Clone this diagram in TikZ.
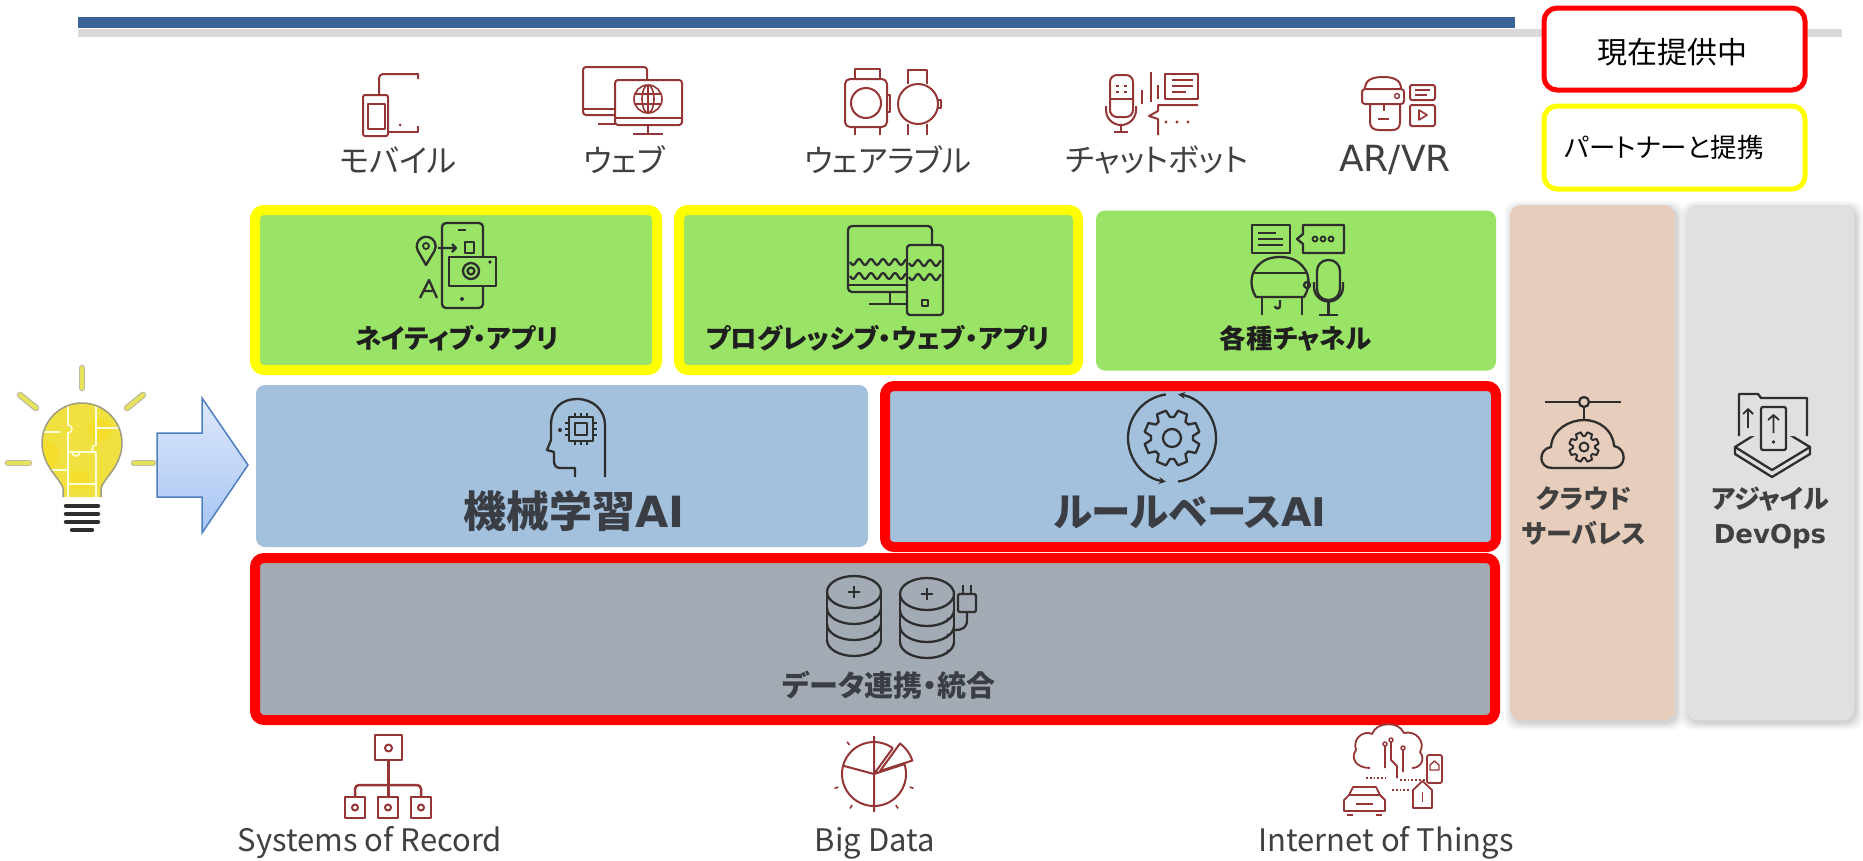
\documentclass[tikz,border=0pt]{standalone}
\usepackage{fontspec}
\setmainfont{Noto Sans CJK JP}[RawFeature=+palt]
\newfontfamily\latinfont{DejaVu Sans}
\usetikzlibrary{arrows.meta}

\definecolor{barblue}{HTML}{3A6496}
\definecolor{bargray}{HTML}{D9D9D9}
\definecolor{appgreen}{HTML}{99E366}
\definecolor{aiblue}{HTML}{A3C0DD}
\definecolor{datagray}{HTML}{A2AAB3}
\definecolor{peach}{HTML}{E7CDBB}
\definecolor{colgray}{HTML}{E0E0E0}
\definecolor{icored}{HTML}{963535}
\definecolor{icodark}{HTML}{2E2E2E}
\definecolor{txtgray}{HTML}{404040}
\definecolor{aitext}{HTML}{3A3E44}
\definecolor{hotred}{HTML}{FF0000}
\definecolor{hotyellow}{HTML}{FFFF00}
\definecolor{arrowtop}{HTML}{DDE8FB}
\definecolor{arrowbot}{HTML}{A8C5F3}
\definecolor{arrowline}{HTML}{4F7FBF}
\definecolor{bulbfill}{HTML}{F0E040}
\definecolor{bulbline}{HTML}{A09C80}
\definecolor{rayfill}{HTML}{E6E25C}

% gear outline: centre x, centre y, root radius, tip radius, teeth, style
\newcommand{\drawgear}[6]{%
  \draw[#6,shift={(#1,#2)}] (0:#3)
    \foreach \k in {1,...,#5}{
      -- ({(\k-1)*360/#5+0.12*360/#5}:#3)
      -- ({(\k-1)*360/#5+0.28*360/#5}:#4)
      -- ({(\k-1)*360/#5+0.72*360/#5}:#4)
      -- ({(\k-1)*360/#5+0.88*360/#5}:#3)
      -- ({\k*360/#5}:#3)
    } -- cycle;}

% stacked disk cylinder: centre x, top ellipse centre y
\newcommand{\dbstack}[2]{%
  \draw[darkicon] (#1-27,#2) -- (#1-27,#2+48);
  \draw[darkicon] (#1+27,#2) -- (#1+27,#2+48);
  \foreach \j in {16,32,48}{
    \draw[darkicon] (#1-27,#2+\j) arc[start angle=180,end angle=0,x radius=27,y radius=16];
    \fill[icodark] (#1+21,#2+\j+9) circle (1.6);
  }
  \draw[darkicon] (#1,#2) ellipse [x radius=27,y radius=16];
  \draw[darkicon] (#1-6,#2) -- (#1+6,#2) (#1,#2-6) -- (#1,#2+6);}

\begin{document}
\begin{tikzpicture}[x=1pt,y=-1pt,
  redicon/.style={draw=icored,line width=2pt,line join=round},
  darkicon/.style={draw=icodark,line width=2.3pt,line join=round},
  appbox/.style={fill=appgreen,rounded corners=9pt,inner sep=0pt,minimum height=160pt},
  aibox/.style={fill=aiblue,rounded corners=9pt,inner sep=0pt,minimum height=161pt},
  partner/.style={draw=hotyellow,line width=10pt},
  offered/.style={draw=hotred,line width=10pt},
  column/.style={rounded corners=11pt,inner sep=0pt,minimum height=515pt},
  legendbox/.style={fill=white,rounded corners=13pt,line width=5pt,inner sep=0pt,
    minimum width=261pt,minimum height=82pt},
  toplabel/.style={font=\fontsize{31.5}{35}\selectfont,text=txtgray,inner sep=0pt},
  botlabel/.style={font=\fontsize{31}{34}\selectfont,text=txtgray,inner sep=0pt},
  applabel/.style={font=\bfseries\fontsize{26.5}{30}\selectfont,text=black!88,inner sep=0pt},
  ailabel/.style={font=\bfseries\fontsize{43}{46}\selectfont,text=aitext,inner sep=0pt},
  datalabel/.style={font=\bfseries\fontsize{29}{32}\selectfont,text=aitext,inner sep=0pt},
  collabel/.style={font=\bfseries\fontsize{26}{35}\selectfont,text=txtgray,align=center,inner sep=0pt},
  legendlabel/.style={font=\fontsize{26.5}{30}\selectfont,text=black,inner sep=0pt},
  ray/.style={line width=6.5pt,line cap=round,draw=bulbline!70},
  rayin/.style={line width=4pt,line cap=round,draw=rayfill}
]
\useasboundingbox (0,0) rectangle (1863,860);

% ---------- header bars ----------
\fill[bargray] (78,29) rectangle (1842,37);
\fill[barblue] (78,17) rectangle (1515,28);

% ---------- legend ----------
\node[legendbox,draw=hotred] (legoffer) at (1674.5,49) {};
\node[legendlabel,font=\fontsize{30}{32}\selectfont] (legoffertxt) at (1672,52) {現在提供中};
\node[legendbox,draw=hotyellow,minimum height=83pt] (legpartner) at (1674.5,147.5) {};
\node[legendlabel] (legpartnertxt) at (1664,147) {パートナーと提携};

% ---------- side columns with soft shadow ----------
\foreach \d/\o in {7/0.03,5/0.04,3/0.05,1/0.06}{
  \fill[black,opacity=\o,rounded corners=12pt] (1510-\d+2,205-\d+3) rectangle (1675+\d+2,720+\d+3);
  \fill[black,opacity=\o,rounded corners=12pt] (1686-\d+2,205-\d+3) rectangle (1854+\d+2,720+\d+3);
}
\node[column,fill=peach,minimum width=165pt] (cloudcol) at (1592.5,462.5) {};
\node[column,fill=colgray,minimum width=168pt] (agilecol) at (1770,462.5) {};

% ---------- application row ----------
\node[appbox,partner,minimum width=402pt] (native) at (456,290) {};
\node[appbox,partner,minimum width=399pt] (pwa) at (878.5,290) {};
\node[appbox,minimum width=400pt] (channels) at (1296,290.5) {};

% ---------- AI row ----------
\node[aibox,minimum width=612pt,minimum height=162pt] (mlai) at (562,466) {};
\node[aibox,offered,minimum width=611pt] (ruleai) at (1190.5,466.5) {};

% ---------- data row ----------
\node[fill=datagray,offered,rounded corners=9pt,inner sep=0pt,minimum width=1240pt,minimum height=162pt] (data) at (875,639) {};

% ---------- light bulb ----------
\draw[ray] (82,368) -- (82,388);  \draw[rayin] (82,368) -- (82,388);
\draw[ray] (20,395) -- (36,408);  \draw[rayin] (20,395) -- (36,408);
\draw[ray] (127,408) -- (143,395); \draw[rayin] (127,408) -- (143,395);
\draw[ray] (8,463) -- (29,463);   \draw[rayin] (8,463) -- (29,463);
\draw[ray] (134,463) -- (153,463); \draw[rayin] (134,463) -- (153,463);
\begin{scope}
  \path[clip] (63,497) -- (63,488) .. controls (60,478) and (42,466) .. (42,443)
    arc[start angle=180,end angle=360,radius=40]
    .. controls (122,466) and (104,478) .. (101,488) -- (101,497) -- cycle;
  \fill[bulbfill] (40,400) rectangle (125,500);
  \fill[yellow!80!orange,opacity=0.35] (45,455) circle (14) (100,430) circle (12) (80,480) circle (10);
  \draw[white!85!yellow,line width=1.6pt]
    (68,400) -- (68,425) arc[start angle=-90,end angle=90,radius=4] -- (68,500)
    (96,400) -- (96,445) arc[start angle=270,end angle=90,radius=4] -- (96,500)
    (40,432) -- (60,432) (68,452) -- (96,452)
    (96,428) -- (125,428) (40,470) -- (68,470) (68,484) -- (96,484)
    (80,452) arc[start angle=0,end angle=180,radius=4];
\end{scope}
\draw[bulbline,line width=1.5pt] (63,497) -- (63,488) .. controls (60,478) and (42,466) .. (42,443)
    arc[start angle=180,end angle=360,radius=40]
    .. controls (122,466) and (104,478) .. (101,488) -- (101,497);
\foreach \yy in {506,514,522}{\draw[icodark,line width=4.5pt,line cap=round] (66,\yy) -- (98,\yy);}
\draw[icodark,line width=4.5pt,line cap=round] (72,530) -- (92,530);

% ---------- arrow into the stack ----------
\path[draw=arrowline,line width=1.5pt,line join=miter,top color=arrowtop,bottom color=arrowbot]
  (157,433) -- (202,433) -- (202,398) -- (248,465) -- (202,533) -- (202,497) -- (157,497) -- cycle;

% ---------- channel icons (top row) ----------
% mobile
\draw[redicon] (379,95) -- (379,78) arc[start angle=180,end angle=270,radius=4] -- (418,74) -- (418,79);
\draw[redicon] (418,126) -- (418,132) -- (388,132);
\fill[icored] (400,125) circle (1.5);
\draw[redicon,fill=white,rounded corners=2pt] (363,95) rectangle (388,136);
\draw[redicon] (368,104) rectangle (385,129);
% web
\draw[redicon,rounded corners=3pt] (583,67) rectangle (647,115);
\draw[redicon] (583,109) -- (615,109) (598,124) -- (615,124);
\draw[redicon,fill=white,rounded corners=3pt] (615,80) rectangle (682,125);
\draw[redicon] (615,118) -- (682,118) (648,125) -- (648,134) (633,134) -- (663,134);
\draw[redicon,line width=1.6pt] (648,99) circle (14) (648,99) ellipse [x radius=6,y radius=14]
  (648,85) -- (648,113) (635,94) -- (661,94) (635,104) -- (661,104);
% wearables
\draw[redicon] (855,79) -- (855,69) -- (880,69) -- (880,79);
\draw[redicon,rounded corners=5pt] (845,79) rectangle (887,127);
\draw[redicon] (866,103) circle (15);
\draw[redicon] (887,95) -- (890,95) -- (890,112) -- (887,112);
\draw[redicon] (855,127) -- (855,135) (880,127) -- (880,135);
\draw[redicon] (908,84) -- (908,70) -- (927,70) -- (927,84);
\draw[redicon] (918,104) circle (20);
\draw[redicon] (908,124) -- (908,135) (927,124) -- (927,135);
\draw[redicon] (938,100) -- (941,100) -- (941,108) -- (938,108);
% chatbot
\draw[redicon,rounded corners=7pt] (1110,75) rectangle (1133,117);
\draw[redicon] (1110,99) -- (1133,99);
\draw[redicon,line width=1.6pt] (1116,86) -- (1119,86) (1124,86) -- (1127,86) (1116,92) -- (1119,92) (1124,92) -- (1127,92);
\draw[redicon] (1106,106) -- (1106,110) arc[start angle=180,end angle=0,radius=15] -- (1136,106);
\draw[redicon] (1121,125) -- (1121,132) (1114,132) -- (1128,132);
\draw[redicon] (1142,90) -- (1142,104) (1151,72) -- (1151,102) (1158,85) -- (1158,99);
\draw[redicon] (1165,74) rectangle (1198,99);
\draw[redicon,line width=1.6pt] (1172,80) -- (1193,80) (1172,86) -- (1193,86) (1172,92) -- (1186,92);
\draw[redicon] (1198,105) -- (1158,105) -- (1158,111) -- (1149,116) -- (1158,119) -- (1158,135);
\fill[icored] (1166,122) circle (1.6) (1177,122) circle (1.6) (1188,122) circle (1.6);
% AR/VR
\draw[redicon] (1365,89) .. controls (1365,80) and (1372,77) .. (1383,77) .. controls (1394,77) and (1401,80) .. (1401,89);
\draw[redicon,rounded corners=3pt] (1362,89) rectangle (1404,104);
\draw[redicon,line width=1.4pt] (1397,96) circle (2.5);
\draw[redicon] (1370,104) -- (1370,122) .. controls (1370,128) and (1374,130) .. (1379,130) -- (1392,130)
  .. controls (1397,130) and (1400,128) .. (1400,122) -- (1400,104);
\draw[redicon] (1384,104) -- (1384,111) (1378,119) -- (1389,119);
\draw[redicon,rounded corners=2pt] (1410,85) rectangle (1435,100);
\draw[redicon,line width=1.6pt] (1415,90) -- (1430,90) (1415,95) -- (1427,95);
\draw[redicon,rounded corners=2pt] (1410,105) rectangle (1435,126);
\draw[redicon,line width=1.6pt] (1419,110) -- (1427,115) -- (1419,120) -- cycle;

% ---------- channel labels ----------
\node[toplabel] (lblmobile) at (398,160) {モバイル};
\node[toplabel] (lblweb) at (624,160) {ウェブ};
\node[toplabel] (lblwear) at (888,160) {ウェアラブル};
\node[toplabel] (lblbot) at (1157,160) {チャットボット};
\node[toplabel,font=\latinfont\fontsize{36}{38}\selectfont] (lblarvr) at (1395,160) {AR/VR};

% ---------- native app icon ----------
\draw[darkicon,rounded corners=4pt] (442,223) rectangle (483,308);
\draw[darkicon] (458,230) -- (466,230);
\fill[icodark] (462,299) circle (2);
\draw[darkicon,fill=appgreen] (449,257) rectangle (496,286);
\draw[darkicon] (471,271) circle (8) (471,271) circle (3.5);
\fill[icodark] (490,262) circle (1.8);
\draw[darkicon] (426,265) -- (418,251) arc[start angle=150,end angle=390,radius=9.5] -- cycle;
\draw[darkicon,line width=1.8pt] (426,246) circle (3);
\draw[darkicon] (438,248) -- (456,248) (452,244) -- (456,248) -- (452,252);
\draw[darkicon] (465,242) rectangle (474,253);
\draw[darkicon] (420,298) -- (429,280) -- (437,298) (424,291) -- (434,291);

% ---------- progressive web app icon ----------
\draw[darkicon,rounded corners=4pt] (848,226) rectangle (932,292);
\draw[darkicon] (848,285) -- (907,285) (890,292) -- (890,303) (869,304) -- (909,304);
\draw[darkicon] plot[domain=850:906,samples=40] (\x,{262+3*sin((\x-850)*30)});
\draw[darkicon] plot[domain=850:906,samples=40] (\x,{276+3*sin((\x-850)*30)});
\draw[darkicon,fill=appgreen,rounded corners=3pt] (907,245) rectangle (943,315);
\draw[darkicon] plot[domain=909:941,samples=30] (\x,{263+3*sin((\x-909)*30)});
\draw[darkicon] plot[domain=909:941,samples=30] (\x,{277+3*sin((\x-909)*30)});
\draw[darkicon,line width=1.8pt] (922,300) rectangle (928,306);

% ---------- channels icon ----------
\draw[darkicon] (1252,225) rectangle (1290,253);
\draw[darkicon] (1258,233) -- (1276,233) (1258,239) -- (1283,239) (1258,245) -- (1283,245);
\draw[darkicon] (1303,234) -- (1303,225) -- (1344,225) -- (1344,253) -- (1303,253) -- (1303,244) -- (1297,239) -- cycle;
\foreach \xx in {1315,1323,1331}{\draw[darkicon,line width=1.8pt] (\xx,239) circle (2.5);}
\draw[darkicon] (1256,297) .. controls (1250,288) and (1250,275) .. (1256,268)
  .. controls (1262,260) and (1270,257) .. (1280,257) .. controls (1290,257) and (1298,260) .. (1304,268)
  .. controls (1310,275) and (1310,288) .. (1304,297) -- cycle;
\draw[darkicon] (1254,273) -- (1306,273);
\draw[darkicon] (1307,285) circle (3);
\draw[darkicon] (1262,297) -- (1262,315) (1302,297) -- (1302,315);
\draw[darkicon] (1280,300) -- (1280,306) arc[start angle=0,end angle=180,radius=2.5];
\draw[darkicon,rounded corners=11pt] (1317,260) rectangle (1340,300);
\draw[darkicon] (1314,282) -- (1314,287) arc[start angle=180,end angle=0,radius=14.5] -- (1343,282);
\draw[darkicon] (1328.5,301.5) -- (1328.5,315) (1319,315) -- (1338,315);

% ---------- machine learning icon ----------
\draw[darkicon] (575,477) -- (575,468) -- (560,468) .. controls (556,468) and (554,465) .. (554,461)
  -- (554,452) -- (547,450) -- (551,440) -- (551,425) .. controls (551,408) and (562,399) .. (577,399)
  .. controls (593,399) and (605,410) .. (605,425) -- (605,477);
\draw[darkicon] (569,417) rectangle (593,441);
\draw[darkicon,line width=1.8pt] (575,423) rectangle (587,435);
\draw[darkicon,line width=1.6pt] (575,413) -- (575,417) (581,413) -- (581,417) (587,413) -- (587,417)
  (575,441) -- (575,445) (581,441) -- (581,445) (587,441) -- (587,445)
  (565,423) -- (569,423) (565,429) -- (569,429) (565,435) -- (569,435)
  (593,423) -- (597,423) (593,429) -- (597,429) (593,435) -- (597,435);
\fill[icodark] (560,430) circle (2);

% ---------- rule based icon ----------
\drawgear{1172}{438}{21}{28}{8}{darkicon}
\draw[darkicon] (1172,438) circle (9);
\draw[darkicon,-{Stealth[length=7pt,width=7pt]}] (1172,438) ++(262:44) arc[start angle=262,end angle=98,radius=44];
\draw[darkicon,-{Stealth[length=7pt,width=7pt]}] (1172,438) ++(82:44) arc[start angle=82,end angle=-82,radius=44];

% ---------- data integration icon ----------
\dbstack{854}{592}
\dbstack{927}{594}
\draw[darkicon,rounded corners=2pt] (958,594) rectangle (976,612);
\draw[darkicon] (963,585) -- (963,594) (971,585) -- (971,594);
\draw[darkicon] (967,612) -- (967,620) .. controls (967,628) and (962,630) .. (955,630);

% ---------- cloud serverless icon ----------
\draw[darkicon] (1545,402) -- (1621,402) (1584,407) -- (1584,420);
\draw[darkicon,fill=peach] (1584,402) circle (5);
\draw[darkicon] (1552,468) .. controls (1538,468) and (1538,449) .. (1551,447)
  .. controls (1552,429) and (1570,420) .. (1584,420) .. controls (1599,420) and (1613,430) .. (1614,446)
  .. controls (1627,448) and (1627,468) .. (1613,468) -- cycle;
\drawgear{1584}{447}{11}{15}{8}{darkicon,line width=2pt}
\draw[darkicon,line width=2pt] (1584,447) circle (4.5);

% ---------- agile devops icon ----------
\draw[darkicon,fill=colgray] (1735,447) -- (1772,424) -- (1810,447) -- (1772,470) -- cycle;
\draw[darkicon] (1735,447) -- (1735,454) -- (1772,477) -- (1810,454) -- (1810,447);
\draw[darkicon,fill=colgray] (1739,436) -- (1739,394) -- (1758,394) -- (1761,398) -- (1807,398) -- (1807,436);
\draw[darkicon,fill=colgray,rounded corners=2pt] (1761,407) rectangle (1786,450);
\draw[darkicon,line width=1.8pt] (1773.5,433) -- (1773.5,416) (1768,420) -- (1773.5,415) -- (1779,420);
\draw[darkicon,line width=1.8pt] (1748,428) -- (1748,410) (1743,414) -- (1748,409) -- (1753,414);
\fill[icodark] (1773.5,442) circle (1.8);

% ---------- source icons (bottom row) ----------
\draw[redicon,line width=2.5pt] (375,735) rectangle (402,760);
\draw[redicon] (388.5,748) circle (3.5);
\draw[redicon,line width=2.5pt] (388.5,760) -- (388.5,797);
\draw[redicon,line width=2.5pt,rounded corners=4pt] (355,797) -- (355,785) -- (421,785) -- (421,797);
\foreach \bx in {345,378,411}{
  \draw[redicon,line width=2.5pt] (\bx,797) rectangle (\bx+20,818);
  \draw[redicon] (\bx+10,807.5) circle (3);
}
% pie chart
\draw[redicon] (874,774) ++(-18:32) arc[start angle=-18,end angle=306,radius=32];
\draw[redicon] (874,736) -- (874,812) (874,774) -- ++(195:32) (874,774) -- ++(-18:32) (874,774) -- ++(306:32);
\draw[redicon,fill=white] (880,771) -- ++(-54:34) arc[start angle=-54,end angle=-18,radius=34] -- cycle;
\foreach \a in {230,160,125,55,20}{\draw[redicon,line width=1.6pt] (874,774) ++(\a:38) -- ++(\a:4);}
% internet of things
\draw[redicon,line width=1.8pt] (1370,768) .. controls (1356,768) and (1350,758) .. (1356,750)
  .. controls (1352,738) and (1364,730) .. (1372,734) .. controls (1376,722) and (1398,720) .. (1404,733)
  .. controls (1416,730) and (1426,742) .. (1420,752) .. controls (1426,760) and (1420,768) .. (1412,768);
\draw[redicon,line width=1.8pt] (1385,768) -- (1385,746) (1391,742) -- (1391,760) -- (1397,766) -- (1397,778)
  (1403,750) -- (1403,772);
\draw[redicon,line width=1.5pt,fill=white] (1385,744) circle (2) (1391,740) circle (2) (1403,748) circle (2);
\draw[redicon,line width=1.8pt,dotted] (1366,778) -- (1386,778) (1400,780) -- (1425,780) (1392,790) -- (1410,790);
\draw[redicon,line width=1.8pt,rounded corners=2pt] (1427,755) rectangle (1442,783);
\draw[redicon,line width=1.4pt] (1430,770) -- (1430,765) -- (1434.5,761) -- (1439,765) -- (1439,770) -- cycle;
\draw[redicon,line width=1.8pt] (1344,811) -- (1344,800) -- (1349,795) -- (1353,787) -- (1376,787) -- (1380,795)
  -- (1385,800) -- (1385,811) -- cycle (1349,795) -- (1380,795);
\draw[redicon,line width=1.8pt] (1347,815) -- (1353,815) (1376,815) -- (1382,815) (1356,804) -- (1373,804);
\draw[redicon,line width=1.8pt] (1413,808) -- (1413,790) -- (1422.5,781) -- (1432,790) -- (1432,808) -- cycle;
\draw[redicon,line width=1.4pt] (1422.5,792) -- (1422.5,802);

% ---------- stack labels ----------
\node[applabel] (lblnative) at (457,338) {ネイティブ・アプリ};
\node[applabel] (lblpwa) at (878,338) {プログレッシブ・ウェブ・アプリ};
\node[applabel] (lblchannels) at (1296,338) {各種チャネル};
\node[ailabel] (lblml) at (574,511) {機械学習{\latinfont AI}};
\node[ailabel,font=\bfseries\fontsize{39.5}{44}\selectfont] (lblrule) at (1190,512) {ルールベース{\latinfont AI}};
\node[datalabel] (lbldata) at (889,685) {データ連携・統合};
\node[collabel] (lblcloud) at (1584,516) {クラウド\\サーバレス};
\node[collabel] (lblagile) at (1770,518) {アジャイル\\{\latinfont DevOps}};

% ---------- source labels ----------
\node[botlabel] (lblsor) at (370,843) {Systems of Record};
\node[botlabel] (lblbig) at (875,843) {Big Data};
\node[botlabel] (lbliot) at (1386,843) {Internet of Things};
\end{tikzpicture}
\end{document}
